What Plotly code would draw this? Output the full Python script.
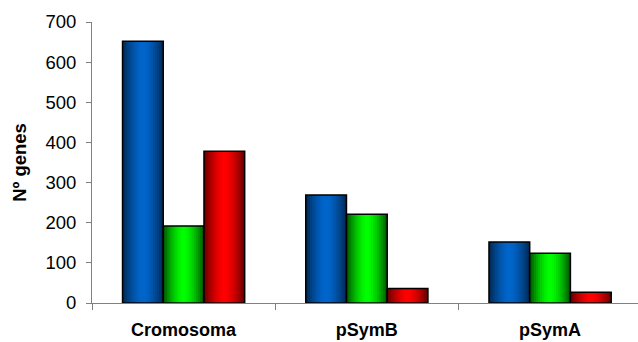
import plotly.graph_objects as go

# Gene counts per replicon, three series
categories = ["Cromosoma", "pSymB", "pSymA"]
serie_azul = [652, 269, 152]
serie_verde = [192, 221, 124]
serie_roja = [378, 36, 27]
y_ticks = [0, 100, 200, 300, 400, 500, 600, 700]

# (values, edge colour, centre colour) for each series
series = [
    (serie_azul, (0, 38, 80), (0, 102, 204)),
    (serie_verde, (0, 80, 0), (0, 255, 0)),
    (serie_roja, (96, 0, 0), (255, 0, 0)),
]

group_width = 2 / 3
bar_w = group_width / len(series)
n_strips = 20

FONT = "Liberation Sans, Arial, sans-serif"


def shade(edge, centre, t):
    # cylinder-like shading: dark at both edges, bright in the middle
    m = abs(2 * t - 1) ** 1.6
    return "rgb({},{},{})".format(*[round(c * (1 - m) + e * m) for e, c in zip(edge, centre)])


fig = go.Figure()
for i, (vals, edge, centre) in enumerate(series):
    off = -group_width / 2 + i * bar_w
    sw = bar_w / n_strips
    for k in range(n_strips):
        t = (k + 0.5) / n_strips
        # each strip runs to the right edge of the bar so no gaps show between strips
        fig.add_trace(go.Bar(
            x=categories, y=vals, width=bar_w - k * sw, offset=off + k * sw,
            marker=dict(color=shade(edge, centre, t), line=dict(width=0)),
            showlegend=False, hoverinfo="skip",
        ))
    # black outline around each whole bar
    fig.add_trace(go.Bar(
        x=categories, y=vals, width=bar_w, offset=off,
        marker=dict(color="rgba(0,0,0,0)", line=dict(color="black", width=1.5)),
        showlegend=False,
    ))

fig.update_layout(
    barmode="overlay",
    width=638, height=342,
    margin=dict(l=92, r=0, t=22, b=39),
    paper_bgcolor="white", plot_bgcolor="white",
    font=dict(family=FONT, color="black"),
)
fig.update_xaxes(
    range=[-0.5, 2.48], showgrid=False, showline=True, linecolor="#808080", linewidth=1,
    ticks="outside", tickson="boundaries", ticklen=6, tickcolor="#808080",
    tickmode="array", tickvals=categories, ticktext=["<b>%s</b>" % c for c in categories],
    tickfont=dict(size=18, family=FONT), ticklabelstandoff=10, automargin=False,
)
fig.update_yaxes(
    range=[0, 700], tickvals=y_ticks, showgrid=False, showline=True, linecolor="#808080",
    linewidth=1, ticks="outside", ticklen=5, tickcolor="#808080",
    tickfont=dict(size=18.5), zeroline=False, ticklabelstandoff=6, automargin=False,
    title=dict(text="<b>Nº genes</b>", font=dict(size=18.5), standoff=13),
)

fig.write_html("out.html")
